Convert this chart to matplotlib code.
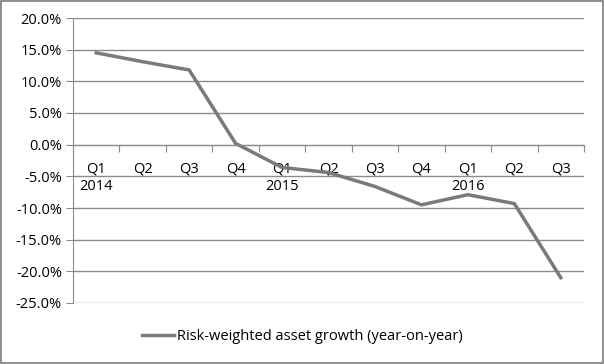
import matplotlib
matplotlib.use("Agg")
import matplotlib.pyplot as plt
from matplotlib.patches import Rectangle
from matplotlib.ticker import FuncFormatter, FixedLocator

# quarterly risk-weighted asset growth, year-on-year (%)
quarters = ["Q1", "Q2", "Q3", "Q4", "Q1", "Q2", "Q3", "Q4", "Q1", "Q2", "Q3"]
years = ["2014", "", "", "", "2015", "", "", "", "2016", "", ""]
rwa_growth = [14.5, 13.1, 11.8, 0.2, -3.6, -4.4, -6.6, -9.5, -7.9, -9.3, -21.0]

plt.rcParams["font.family"] = ["Open Sans", "DejaVu Sans"]
plt.rcParams["font.size"] = 10.5

GREY = "#7a7a7a"
GRID = "#8c8c8c"

fig = plt.figure(figsize=(6.04, 3.64), dpi=100)
ax = fig.add_axes([73 / 604, 1 - 303 / 364, 511 / 604, 285 / 364])

x = list(range(len(rwa_growth)))
ax.plot(x, rwa_growth, color=GREY, lw=2.5, solid_joinstyle="miter",
        label="Risk-weighted asset growth (year-on-year)")

ax.set_ylim(-25, 20)
ax.set_yticks(range(-25, 21, 5))
ax.yaxis.set_major_formatter(FuncFormatter(lambda v, p: f"{v:.1f}%"))
ax.set_xlim(-0.5, len(x) - 0.5)

# category boundaries as major ticks, labels at centres as minor ticks
ax.xaxis.set_major_locator(FixedLocator([i - 0.5 for i in range(len(x) + 1)]))
ax.xaxis.set_minor_locator(FixedLocator(x))
ax.set_xticklabels([""] * (len(x) + 1))
labels = ax.set_xticklabels([f"{q}\n{y}" for q, y in zip(quarters, years)], minor=True)
for t in labels:
    t.set_linespacing(1.45)
ax.tick_params(axis="x", which="major", length=5, color=GRID, direction="out")
ax.tick_params(axis="x", which="minor", length=0, pad=12)
ax.tick_params(axis="y", length=5, color=GRID, pad=3)

ax.grid(axis="y", color=GRID, lw=1)
ax.set_axisbelow(True)
for s in ["top", "right"]:
    ax.spines[s].set_visible(False)
ax.spines["bottom"].set_position(("data", 0))
ax.spines["bottom"].set_color(GRID)
ax.spines["left"].set_color(GRID)

fig.legend(loc="center", bbox_to_anchor=(0.5, 1 - 337 / 364), frameon=False,
           handlelength=2.2, handletextpad=0.2)

fig.patches.append(Rectangle((0.001, 0.002), 0.997, 0.995, transform=fig.transFigure,
                             fill=False, edgecolor=GREY, lw=1.2))

fig.savefig("out.png", dpi=100)
